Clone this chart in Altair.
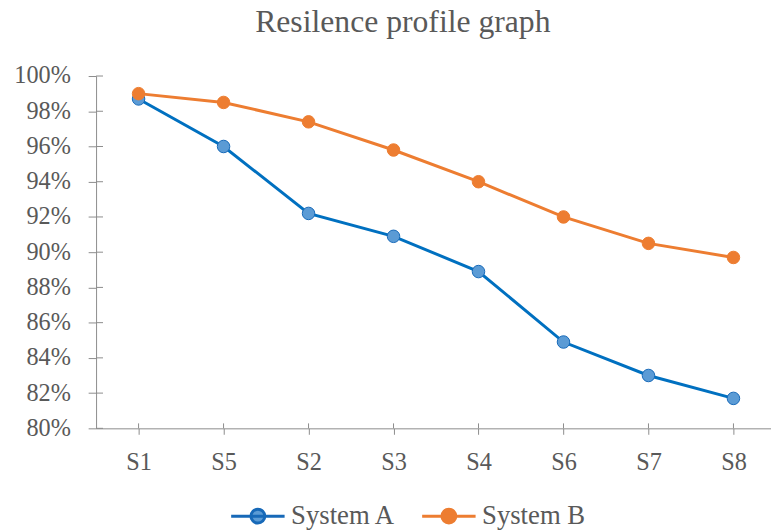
import altair as alt
import pandas as pd

categories = ["S1", "S5", "S2", "S3", "S4", "S6", "S7", "S8"]
system_a = [98.7, 96.0, 92.2, 90.9, 88.9, 84.9, 83.0, 81.7]
system_b = [99.0, 98.5, 97.4, 95.8, 94.0, 92.0, 90.5, 89.7]
series_names = ["System A", "System B"]
y_ticks = [80, 82, 84, 86, 88, 90, 92, 94, 96, 98, 100]

FONT = "Liberation Serif"
TEXT = "#595959"
AXIS = "#8C8C8C"
A_LINE = "#0070C0"
A_FILL = "#5B9BD5"
A_STROKE = "#1769B8"
B_COL = "#ED7D31"

W, H = 682, 356

rows = []
for c, a, b in zip(categories, system_a, system_b):
    rows.append({"cat": c, "series": "System A", "value": a / 100})
    rows.append({"cat": c, "series": "System B", "value": b / 100})
df = pd.DataFrame(rows)
ticks_df = pd.DataFrame({"value": [t / 100 for t in y_ticks]})
cats_df = pd.DataFrame({"cat": categories})

x_enc = alt.X(
    "cat:N", sort=categories,
    scale=alt.Scale(type="point", padding=0.5, range=[0, 687]),
    axis=alt.Axis(title=None, labelAngle=0, labelFont=FONT, labelFontSize=24.5,
                  labelColor=TEXT, labelPadding=17, tickSize=6, tickColor=AXIS,
                  domainColor=AXIS, grid=False),
)
y_enc = alt.Y(
    "value:Q",
    scale=alt.Scale(domain=[0.80, 1.00], nice=False, zero=False),
    axis=alt.Axis(title=None, format=".0%", values=[t / 100 for t in y_ticks],
                  labelFont=FONT, labelFontSize=24.5, labelColor=TEXT,
                  labelPadding=18, tickSize=8, tickColor=AXIS,
                  domainColor=AXIS, grid=False),
)

legend_path = ("M-1,0H1M-0.26,0A0.26,0.26 0 1,0 0.26,0"
               "A0.26,0.26 0 1,0 -0.26,0Z")
leg = alt.Legend(
    title=None, orient="none", legendX=135, legendY=416, direction="horizontal",
    labelFont=FONT, labelFontSize=27, labelColor=TEXT, labelOffset=5,
    symbolType=legend_path, symbolSize=2916, symbolStrokeWidth=3,
    columnPadding=20, padding=0,
)

line_a = alt.Chart(df).transform_filter(alt.datum.series == "System A").mark_line(
    strokeWidth=3, color=A_LINE).encode(x=x_enc, y=y_enc)
line_b = alt.Chart(df).transform_filter(alt.datum.series == "System B").mark_line(
    strokeWidth=3, color=B_COL).encode(x=x_enc, y=y_enc)

points = alt.Chart(df).mark_point(filled=True, size=160, strokeWidth=1, opacity=1).encode(
    x=x_enc, y=y_enc,
    fill=alt.Fill("series:N", scale=alt.Scale(domain=series_names, range=[A_FILL, B_COL]), legend=leg),
    stroke=alt.Stroke("series:N", scale=alt.Scale(domain=series_names, range=[A_STROKE, B_COL]), legend=leg),
)
y_inner = alt.Chart(ticks_df).mark_rule(color=AXIS, strokeWidth=1).encode(
    y=y_enc, x=alt.value(0), x2=alt.value(7)
)
x_inner = alt.Chart(cats_df).mark_rule(color=AXIS, strokeWidth=1).encode(
    x=x_enc, y=alt.value(H - 5), y2=alt.value(H)
)

chart = alt.layer(y_inner, x_inner, line_a, line_b, points).properties(
    width=W, height=H,
    padding={"left": 89, "top": 66, "right": 0, "bottom": 101},
    autosize=alt.AutoSizeParams(type="none"),
    title=alt.TitleParams("Resilence profile graph", font=FONT, fontSize=32,
                          fontWeight="normal", color=TEXT, anchor="middle",
                          frame="group", dx=-31, dy=3, offset=2, baseline="alphabetic"),
).configure_view(stroke=None)

chart.save("out.html", embed_options={"renderer": "svg", "actions": False})
